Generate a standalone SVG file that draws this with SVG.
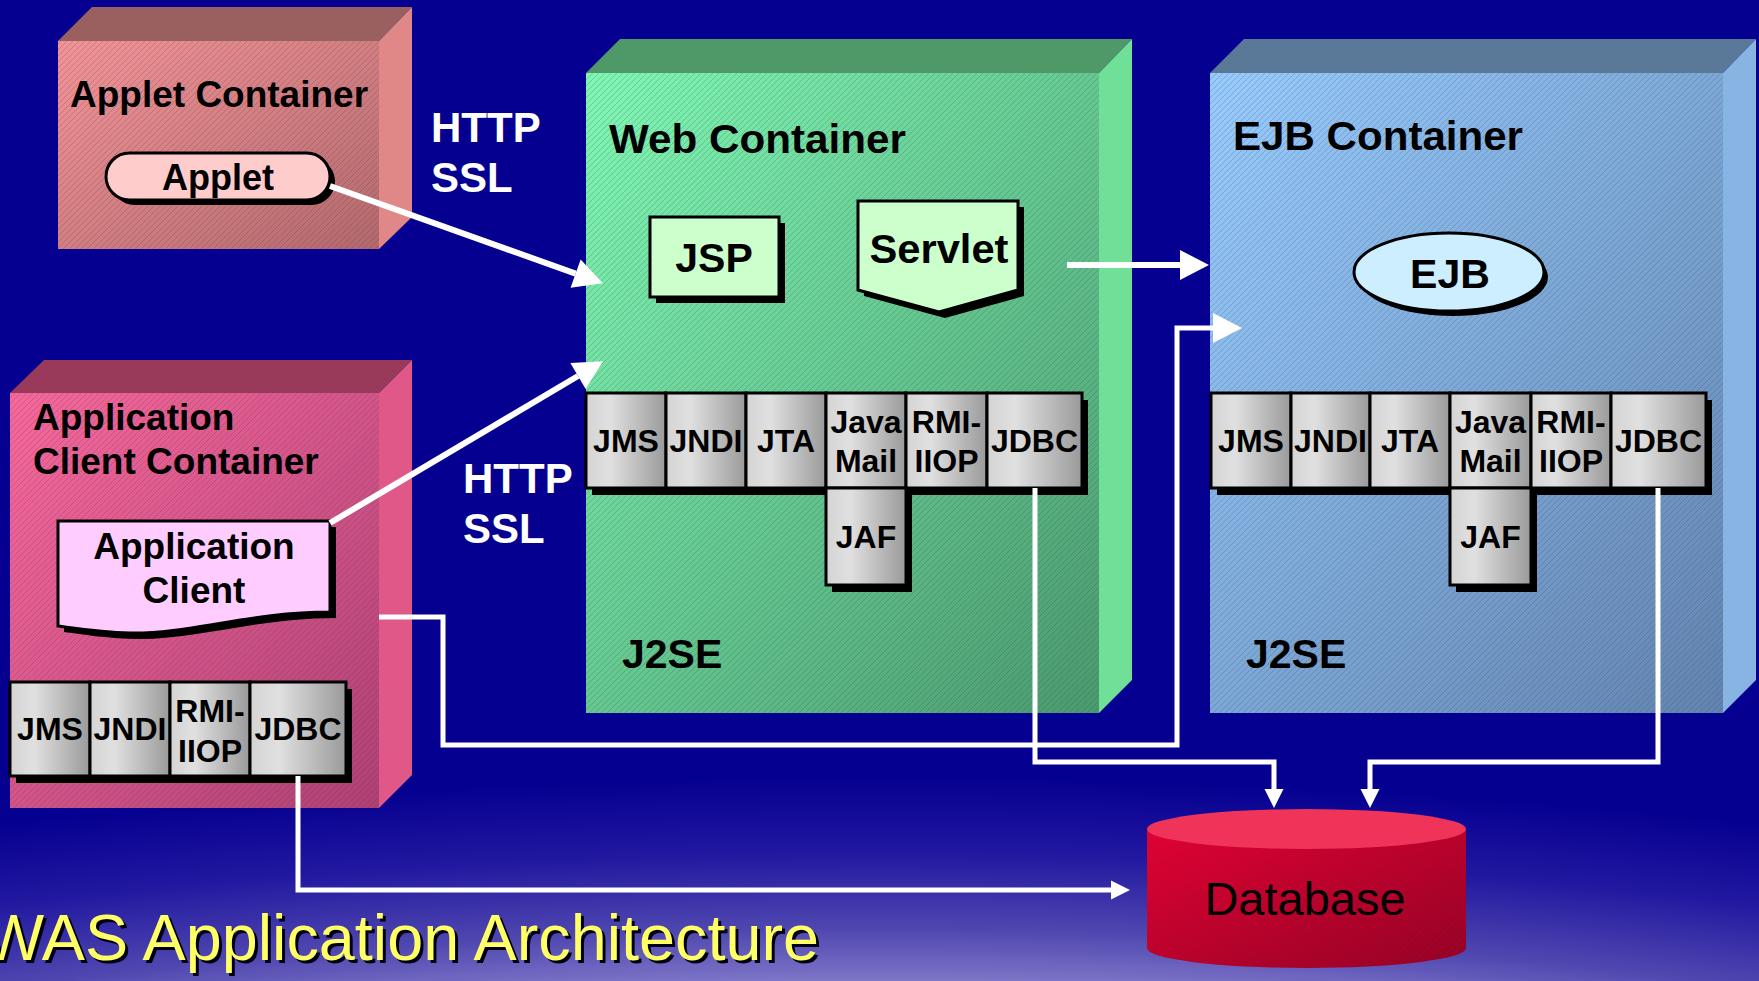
<svg xmlns="http://www.w3.org/2000/svg" width="1759" height="981" viewBox="0 0 1759 981">
  <defs>
    <style>
      .lbl{font-family:"Liberation Sans",Arial,Helvetica,sans-serif;font-weight:bold;fill:#000}
      .wht{font-family:"Liberation Sans",Arial,Helvetica,sans-serif;font-weight:bold;fill:#fff;font-size:42px}
      .ttl{font-size:37px}
      .big{font-size:41px;text-anchor:middle}
      .api{font-size:32px;text-anchor:middle}
      .cell{stroke:#000;stroke-width:3;fill:url(#cellGrad)}
      .shd{fill:#000}
      .node{stroke:#000;stroke-width:3}
      .wire{fill:none;stroke:#fff;stroke-width:5}
      .thick{stroke-width:6}
      .hatch{fill:url(#hatch)}
    </style>

    <!-- background glow at the bottom -->
    <radialGradient id="glow" gradientUnits="userSpaceOnUse" cx="880" cy="1500" r="760"
        gradientTransform="translate(880 1500) scale(3.5 1) translate(-880 -1500)">
      <stop offset="0.68" stop-color="#8078c8"/>
      <stop offset="0.75" stop-color="#5048b0"/>
      <stop offset="0.85" stop-color="#2218a0"/>
      <stop offset="0.95" stop-color="#060090"/>
    </radialGradient>

    <!-- fine diagonal texture used on the box fronts -->
    <pattern id="hatch" patternUnits="userSpaceOnUse" width="6" height="6">
      <path d="M0,6 L6,0 M-1,1 L1,-1 M5,7 L7,5" stroke="#3038a0" stroke-opacity="0.28" stroke-width="0.9"/>
    </pattern>

    <linearGradient id="cellGrad" x1="0" y1="0" x2="1" y2="0">
      <stop offset="0" stop-color="#d4d4d4"/>
      <stop offset="0.3" stop-color="#e0e0e0"/>
      <stop offset="1" stop-color="#9a9a9a"/>
    </linearGradient>

    <linearGradient id="appletFront" x1="0" y1="0" x2="1" y2="1">
      <stop offset="0" stop-color="#f49494"/>
      <stop offset="1" stop-color="#b46868"/>
    </linearGradient>
    <linearGradient id="clientFront" x1="0" y1="0" x2="1" y2="1">
      <stop offset="0" stop-color="#f86898"/>
      <stop offset="1" stop-color="#b04070"/>
    </linearGradient>
    <linearGradient id="webFront" x1="0" y1="0" x2="1" y2="1">
      <stop offset="0" stop-color="#80f8b0"/>
      <stop offset="1" stop-color="#4a9a6a"/>
    </linearGradient>
    <linearGradient id="ejbFront" x1="0" y1="0" x2="1" y2="1">
      <stop offset="0" stop-color="#98ccfa"/>
      <stop offset="1" stop-color="#6284ac"/>
    </linearGradient>
    <linearGradient id="dbSide" x1="0" y1="0" x2="1" y2="1">
      <stop offset="0" stop-color="#e6002e"/>
      <stop offset="1" stop-color="#980020"/>
    </linearGradient>

    <marker id="headBig" markerUnits="userSpaceOnUse" markerWidth="30" markerHeight="32" refX="0" refY="15" orient="auto" overflow="visible">
      <path d="M0,0 L29,15 L0,30 Z" fill="#fff"/>
    </marker>
    <marker id="headSmall" markerUnits="userSpaceOnUse" markerWidth="20" markerHeight="20" refX="0" refY="9.5" orient="auto" overflow="visible">
      <path d="M0,0 L19,9.5 L0,19 Z" fill="#fff"/>
    </marker>
  </defs>

  <!-- backdrop -->
  <rect width="1759" height="981" fill="#060090"/>
  <rect width="1759" height="981" fill="url(#glow)"/>

  <!-- Applet container -->
  <g id="applet-container">
    <polygon points="58,41 92,7 412,7 379,41" fill="#9a6060"/>
    <polygon points="379,41 412,7 412,217 379,249" fill="#e08888"/>
    <rect x="58" y="41" width="321" height="208" fill="url(#appletFront)"/>
    <rect x="58" y="41" width="321" height="208" class="hatch"/>
    <text class="lbl ttl" x="70" y="107">Applet Container</text>
  </g>

  <g id="applet">
    <rect x="111" y="158" width="224" height="47" rx="23.5" class="shd"/>
    <rect x="106" y="153" width="224" height="47" rx="23.5" fill="#ffcccc" class="node"/>
    <text class="lbl" x="218" y="190" font-size="36" text-anchor="middle">Applet</text>
  </g>

  <!-- Application client container -->
  <g id="client-container">
    <polygon points="10,393 44,360 412,360 379,393" fill="#9a3a5a"/>
    <polygon points="379,393 412,360 412,775 379,808" fill="#e05888"/>
    <rect x="10" y="393" width="369" height="415" fill="url(#clientFront)"/>
    <rect x="10" y="393" width="369" height="415" class="hatch"/>
    <text class="lbl ttl" x="33" y="430">Application</text>
    <text class="lbl ttl" x="33" y="474">Client Container</text>
  </g>

  <g id="application-client">
    <path d="M58,521 H330 V612 C250,612 190,634 130,633 C95,632 75,628 58,626 Z" class="shd" transform="translate(6 6)"/>
    <path d="M58,521 H330 V612 C250,612 190,634 130,633 C95,632 75,628 58,626 Z" fill="#ffccff" class="node"/>
    <text class="lbl" x="194" y="559" font-size="37" text-anchor="middle">Application</text>
    <text class="lbl" x="194" y="603" font-size="37" text-anchor="middle">Client</text>
  </g>

  <g id="client-apis">
    <rect x="16" y="689" width="336" height="94" class="shd"/>
    <rect x="10" y="682" width="80" height="94" class="cell"/>
    <rect x="90" y="682" width="80" height="94" class="cell"/>
    <rect x="170" y="682" width="80" height="94" class="cell"/>
    <rect x="250" y="682" width="96" height="94" class="cell"/>
    <text class="lbl api" x="50" y="740">JMS</text>
    <text class="lbl api" x="130" y="740">JNDI</text>
    <text class="lbl api" x="210" y="722">RMI-</text>
    <text class="lbl api" x="210" y="762">IIOP</text>
    <text class="lbl api" x="298" y="740">JDBC</text>
  </g>

  <!-- Web container -->
  <g id="web-container">
    <polygon points="586,73 620,39 1132,39 1099,73" fill="#4f9868"/>
    <polygon points="1099,73 1132,39 1132,680 1099,713" fill="#70e098"/>
    <rect x="586" y="73" width="513" height="640" fill="url(#webFront)"/>
    <rect x="586" y="73" width="513" height="640" class="hatch"/>
    <text class="lbl" x="609" y="153" font-size="40" textLength="297" lengthAdjust="spacingAndGlyphs">Web Container</text>
    <text class="lbl" x="622" y="668" font-size="41">J2SE</text>
  </g>

  <g id="jsp">
    <rect x="656" y="223" width="129" height="80" class="shd"/>
    <rect x="650" y="217" width="129" height="80" fill="#ccffcc" class="node"/>
    <text class="lbl big" x="714" y="272">JSP</text>
  </g>

  <g id="servlet">
    <polygon points="858,201 1018,201 1018,290 939,312 858,290" class="shd" transform="translate(6 6)"/>
    <polygon points="858,201 1018,201 1018,290 939,312 858,290" fill="#ccffcc" class="node"/>
    <text class="lbl big" x="939" y="263" textLength="139" lengthAdjust="spacingAndGlyphs">Servlet</text>
  </g>

  <g id="web-apis">
    <rect x="592" y="400" width="496" height="95" class="shd"/>
    <rect x="832" y="495" width="80" height="97" class="shd"/>
    <rect x="586" y="393" width="80" height="95" class="cell"/>
    <rect x="666" y="393" width="80" height="95" class="cell"/>
    <rect x="746" y="393" width="80" height="95" class="cell"/>
    <rect x="826" y="393" width="80" height="95" class="cell"/>
    <rect x="906" y="393" width="81" height="95" class="cell"/>
    <rect x="987" y="393" width="95" height="95" class="cell"/>
    <rect x="826" y="488" width="80" height="97" class="cell"/>
    <text class="lbl api" x="626" y="452">JMS</text>
    <text class="lbl api" x="706" y="452">JNDI</text>
    <text class="lbl api" x="786" y="452">JTA</text>
    <text class="lbl api" x="866" y="433">Java</text>
    <text class="lbl api" x="866" y="472">Mail</text>
    <text class="lbl api" x="946.5" y="433">RMI-</text>
    <text class="lbl api" x="946.5" y="472">IIOP</text>
    <text class="lbl api" x="1034.5" y="452">JDBC</text>
    <text class="lbl api" x="866" y="548">JAF</text>
  </g>

  <!-- EJB container -->
  <g id="ejb-container">
    <polygon points="1210,73 1244,39 1756,39 1723,73" fill="#5a7898"/>
    <polygon points="1723,73 1756,39 1756,680 1723,713" fill="#88b4e4"/>
    <rect x="1210" y="73" width="513" height="640" fill="url(#ejbFront)"/>
    <rect x="1210" y="73" width="513" height="640" class="hatch"/>
    <text class="lbl" x="1233" y="150" font-size="40" textLength="290" lengthAdjust="spacingAndGlyphs">EJB Container</text>
    <text class="lbl" x="1246" y="668" font-size="41">J2SE</text>
  </g>

  <g id="ejb">
    <ellipse cx="1453" cy="277" rx="95" ry="39" class="shd"/>
    <ellipse cx="1449" cy="272" rx="95" ry="39" fill="#cceeff" class="node"/>
    <text class="lbl big" x="1450" y="288">EJB</text>
  </g>

  <g id="ejb-apis">
    <rect x="1217" y="400" width="495" height="95" class="shd"/>
    <rect x="1456" y="495" width="81" height="97" class="shd"/>
    <rect x="1211" y="393" width="80" height="95" class="cell"/>
    <rect x="1291" y="393" width="79" height="95" class="cell"/>
    <rect x="1370" y="393" width="80" height="95" class="cell"/>
    <rect x="1450" y="393" width="81" height="95" class="cell"/>
    <rect x="1531" y="393" width="80" height="95" class="cell"/>
    <rect x="1611" y="393" width="95" height="95" class="cell"/>
    <rect x="1450" y="488" width="81" height="97" class="cell"/>
    <text class="lbl api" x="1251" y="452">JMS</text>
    <text class="lbl api" x="1330.5" y="452">JNDI</text>
    <text class="lbl api" x="1410" y="452">JTA</text>
    <text class="lbl api" x="1490.5" y="433">Java</text>
    <text class="lbl api" x="1490.5" y="472">Mail</text>
    <text class="lbl api" x="1571" y="433">RMI-</text>
    <text class="lbl api" x="1571" y="472">IIOP</text>
    <text class="lbl api" x="1658.5" y="452">JDBC</text>
    <text class="lbl api" x="1490.5" y="548">JAF</text>
  </g>

  <!-- Database -->
  <g id="database">
    <path d="M1147,829 V948 A159.5,20 0 0 0 1466,948 V829 Z" fill="url(#dbSide)"/>
    <path d="M1147,829 V948 A159.5,20 0 0 0 1466,948 V829 Z" class="hatch"/>
    <ellipse cx="1306.5" cy="829" rx="159.5" ry="20" fill="#f03358"/>
    <text x="1305" y="915" font-family="'Liberation Sans',Arial,sans-serif" font-size="47" text-anchor="middle" fill="#000">Database</text>
  </g>

  <!-- protocol labels -->
  <g id="protocol-labels">
    <text class="wht" x="431" y="142">HTTP</text>
    <text class="wht" x="431" y="192">SSL</text>
    <text class="wht" x="463" y="493">HTTP</text>
    <text class="wht" x="463" y="543">SSL</text>
  </g>

  <!-- connectors -->
  <g id="connectors">
    <path class="wire thick" d="M330,186 L575.6,273.6" marker-end="url(#headBig)"/>
    <path class="wire thick" d="M330,523 L578,376" marker-end="url(#headBig)"/>
    <path class="wire thick" d="M1067,265 H1180" marker-end="url(#headBig)"/>
    <path class="wire" d="M379,617 H443 V745 H1177 V328 H1213" marker-end="url(#headBig)"/>
    <path class="wire" d="M1035,488 V762 H1274 V789" marker-end="url(#headSmall)"/>
    <path class="wire" d="M1658,488 V762 H1370 V789" marker-end="url(#headSmall)"/>
    <path class="wire" d="M298,776 V890 H1111" marker-end="url(#headSmall)"/>
  </g>

  <!-- caption, starting just past the left edge -->
  <g id="caption" font-family="'Liberation Sans',Arial,sans-serif" font-size="65">
    <text x="-14" y="963" fill="#000010" textLength="836" lengthAdjust="spacingAndGlyphs">WAS Application Architecture</text>
    <text x="-17" y="960" fill="#ffff66" textLength="836" lengthAdjust="spacingAndGlyphs">WAS Application Architecture</text>
  </g>
</svg>
